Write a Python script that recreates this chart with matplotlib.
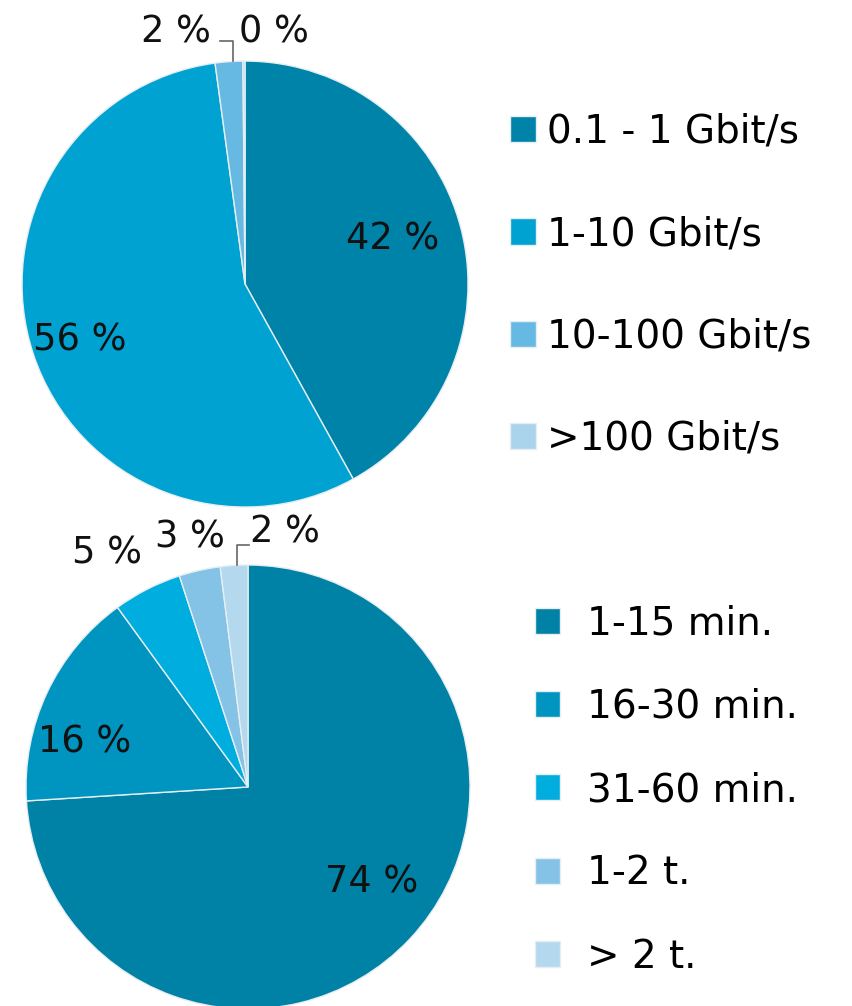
import matplotlib
matplotlib.use("Agg")
import matplotlib.pyplot as plt

plt.rcParams['font.family'] = ['DejaVu Sans']

# top pie: bandwidth
speed_labels = ['0.1 - 1 Gbit/s', '1-10 Gbit/s', '10-100 Gbit/s', '>100 Gbit/s']
speed_values = [42, 56, 2, 0.15]
speed_pct = ['42 %', '56 %', '2 %', '0 %']
speed_colors = ['#0083a9', '#00a2d2', '#66b9e2', '#a9d4ec']

# bottom pie: duration
time_labels = ['1-15 min.', '16-30 min.', '31-60 min.', '1-2 t.', '> 2 t.']
time_values = [74, 16, 5, 3, 2]
time_pct = ['74 %', '16 %', '5 %', '3 %', '2 %']
time_colors = ['#0081a6', '#0095c0', '#00addf', '#84c3e6', '#b4d8ee']

FS = 26.5
LEG_FS = 28

fig = plt.figure(figsize=(8.53, 10.06), dpi=100)


def draw_pie(rect, values, colors, pct, label_pos):
    ax = fig.add_axes(rect)
    wedges, _ = ax.pie(values, colors=colors, startangle=90, counterclock=False,
                       radius=1, wedgeprops=dict(edgecolor='#e6eef2', linewidth=1.0))
    ax.set_xlim(-1, 1)
    ax.set_ylim(-1, 1)
    ax.set_aspect('equal')
    ax.axis('off')
    for txt, (x, y) in zip(pct, label_pos):
        ax.text(x, y, txt, ha='center', va='center', fontsize=FS, color='#111111',
                clip_on=False)
    return ax, wedges


ax1, w1 = draw_pie([0.0258, 0.496, 0.5229, 0.4433], speed_values, speed_colors, speed_pct,
                   [(0.66, 0.20), (-0.74, -0.25), (-0.31, 1.13), (0.13, 1.13)])
# leader for the tiny slice
ax1.plot([-0.11, -0.055, -0.055], [1.09, 1.09, 1.0], color='#666666', lw=1.2, clip_on=False)

ax2, w2 = draw_pie([0.0305, -0.003, 0.5205, 0.4414], time_values, time_colors, time_pct,
                   [(0.559, -0.428), (-0.734, 0.203), (-0.635, 1.054), (-0.26, 1.126), (0.167, 1.15)])
ax2.plot([0.005, -0.05, -0.05], [1.09, 1.09, 1.0], color='#666666', lw=1.2, clip_on=False)

fig.legend(w1, speed_labels, loc='center left', bbox_to_anchor=(0.598, 0.7165),
           frameon=False, fontsize=LEG_FS, borderpad=0, borderaxespad=0,
           handlelength=0.67, handleheight=0.67, handletextpad=0.28, labelspacing=1.655)

fig.legend(w2, time_labels, loc='center left', bbox_to_anchor=(0.627, 0.2147),
           frameon=False, fontsize=LEG_FS, borderpad=0, borderaxespad=0,
           handlelength=0.64, handleheight=0.64, handletextpad=0.69, labelspacing=1.165)

fig.savefig('out.png', dpi=100)
